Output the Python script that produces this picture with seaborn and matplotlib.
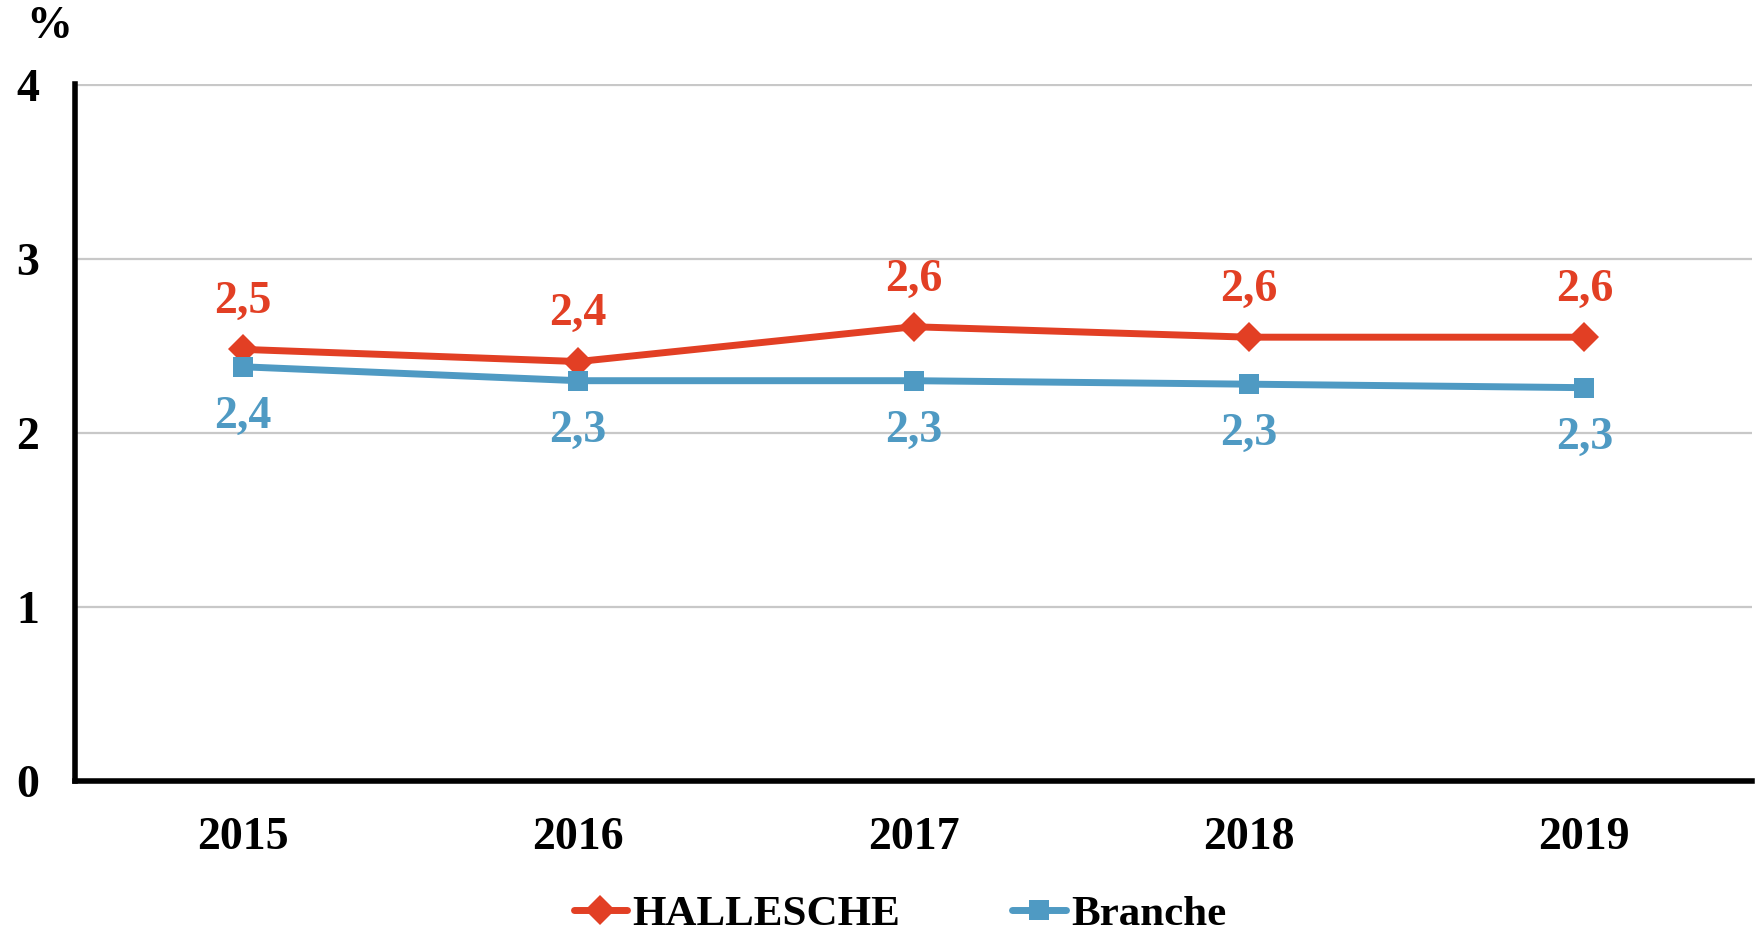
import pandas as pd
import seaborn as sns
import matplotlib.pyplot as plt

years = [2015, 2016, 2017, 2018, 2019]
hallesche = [2.48, 2.41, 2.61, 2.55, 2.55]
branche = [2.38, 2.30, 2.30, 2.28, 2.26]
hallesche_labels = ["2,5", "2,4", "2,6", "2,6", "2,6"]
branche_labels = ["2,4", "2,3", "2,3", "2,3", "2,3"]
y_ticks = [0, 1, 2, 3, 4]

df = pd.DataFrame({
    "year": years * 2,
    "value": hallesche + branche,
    "series": ["HALLESCHE"] * len(years) + ["Branche"] * len(years),
})

red = "#E23F24"
blue = "#4F9AC3"

sns.set_theme(style="white")
plt.rcParams["font.family"] = ["Liberation Serif", "DejaVu Serif"]
plt.rcParams["font.weight"] = "bold"
plt.rcParams["text.color"] = "black"

fig = plt.figure(figsize=(17.58, 9.36), dpi=100)
ax = fig.add_axes([0.0427, 0.1656, 0.9539, 0.7447])

sns.lineplot(
    data=df, x="year", y="value", hue="series", style="series",
    markers={"HALLESCHE": "D", "Branche": "s"}, dashes=False,
    palette={"HALLESCHE": red, "Branche": blue},
    linewidth=5, markersize=15, markeredgewidth=0, ax=ax,
)

ax.set_xlim(years[0] - 0.5, years[-1] + 0.5)
ax.set_ylim(0, 4.005)
ax.set_xticks(years)
ax.set_xticklabels([str(y) for y in years])
ax.set_yticks(y_ticks)
ax.set_yticklabels([str(t) for t in y_ticks])
ax.set_xlabel("")
ax.set_ylabel("")
ax.tick_params(axis="both", length=0, labelsize=33, pad=26, labelcolor="black")
for lab in ax.get_xticklabels() + ax.get_yticklabels():
    lab.set_fontweight("bold")

ax.yaxis.grid(True, color="#C8C8C8", linewidth=1.6)
ax.xaxis.grid(False)
ax.set_axisbelow(True)
for side in ["top", "right"]:
    ax.spines[side].set_visible(False)
for side in ["left", "bottom"]:
    ax.spines[side].set_color("black")
    ax.spines[side].set_linewidth(4)

for x, v, lab in zip(years, hallesche, hallesche_labels):
    ax.annotate(lab, (x, v), xytext=(0, 34), textcoords="offset points",
                ha="center", va="center", color=red, fontsize=33, fontweight="bold")
for x, v, lab in zip(years, branche, branche_labels):
    ax.annotate(lab, (x, v), xytext=(0, -36), textcoords="offset points",
                ha="center", va="center", color=blue, fontsize=33, fontweight="bold")

handles, labels = ax.get_legend_handles_labels()
ax.get_legend().remove()
for h in handles:
    h.set_linewidth(5)
    h.set_markersize(15)
    h.set_markeredgewidth(0)
leg = fig.legend(handles, labels, loc="center", bbox_to_anchor=(0.512, 0.023), ncol=2,
                 frameon=False, prop={"size": 31, "weight": "bold"},
                 handlelength=1.25, handletextpad=0.12, columnspacing=2.6)
for t in leg.get_texts():
    t.set_color("black")

fig.text(49 / 1758, 1 - 27 / 936, "%", ha="center", va="center",
         fontsize=33, fontweight="bold", color="black")

fig.savefig("out.png", dpi=100)
